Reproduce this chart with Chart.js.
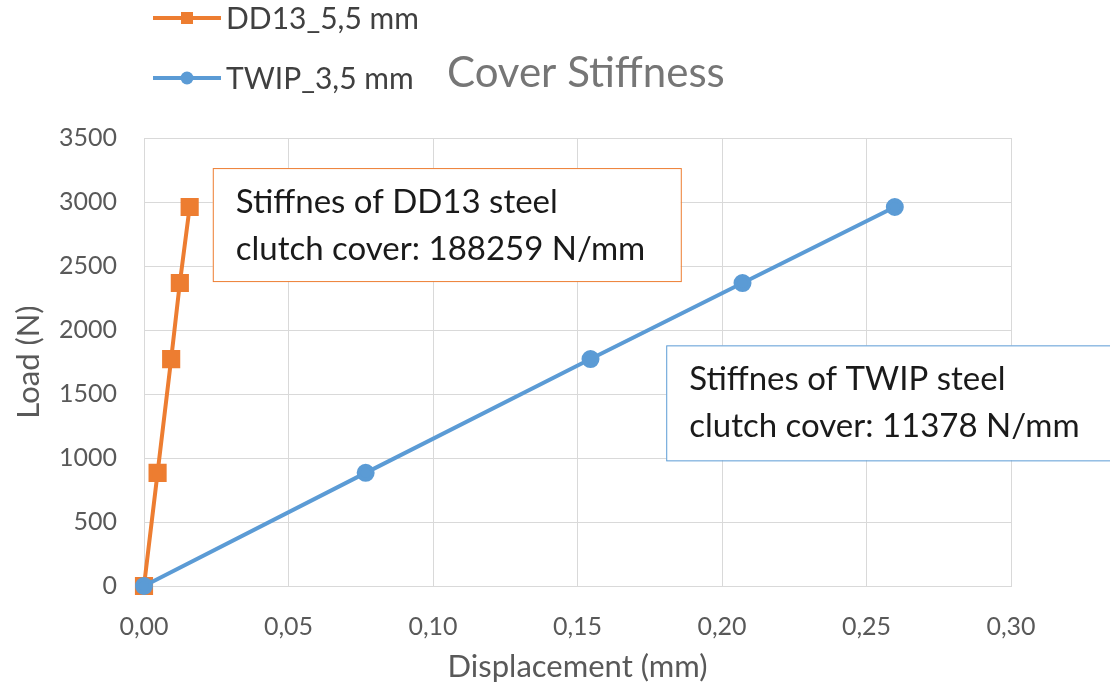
<!DOCTYPE html>
<html>
<head>
<meta charset="utf-8">
<script src="https://cdn.jsdelivr.net/npm/chart.js@4/dist/chart.umd.min.js"></script>
<style>
  html, body { margin: 0; padding: 0; background: #fff; }
  #wrap { width: 1110px; height: 693px; }
</style>
</head>
<body>
<div id="wrap"><canvas id="chart" width="1110" height="693"></canvas></div>
<script>
// data
const dd13Disp = [0, 0.0047, 0.0094, 0.0124, 0.0158];
const dd13Load = [0, 884, 1773, 2367, 2961];
const twipDisp = [0, 0.0767, 0.1545, 0.2071, 0.2598];
const twipLoad = [0, 884, 1773, 2367, 2961];

const seriesNames = ["DD13_5,5 mm", "TWIP_3,5 mm"];
const chartTitle = "Cover Stiffness";
const xTitle = "Displacement (mm)";
const yTitle = "Load (N)";
const noteDD13 = ["Stiffnes of DD13 steel", "clutch cover: 188259 N/mm"];
const noteTWIP = ["Stiffnes of TWIP steel", "clutch cover: 11378 N/mm"];

const ORANGE = "#ED7D31";
const BLUE = "#5B9BD5";
const FONT = "Lato, 'Open Sans', sans-serif";

const toPoints = (xs, ys) => xs.map((x, i) => ({ x: x, y: ys[i] }));

// legend, title and the two text boxes
const extras = {
  id: "extras",
  afterDraw(chart) {
    const ctx = chart.ctx;
    const xs = chart.scales.x;
    const ys = chart.scales.y;
    ctx.save();

    // legend (stacked, top left)
    const items = [
      { name: seriesNames[0], color: ORANGE, style: "rect", y: 18 },
      { name: seriesNames[1], color: BLUE, style: "circle", y: 78 },
    ];
    items.forEach((it) => {
      ctx.strokeStyle = it.color;
      ctx.lineWidth = 4;
      ctx.beginPath();
      ctx.moveTo(153, it.y);
      ctx.lineTo(221, it.y);
      ctx.stroke();
      ctx.fillStyle = it.color;
      if (it.style === "rect") {
        ctx.fillRect(181, it.y - 6, 12, 12);
      } else {
        ctx.beginPath();
        ctx.arc(187, it.y, 6.5, 0, Math.PI * 2);
        ctx.fill();
      }
      ctx.fillStyle = "#404040";
      ctx.font = "30px " + FONT;
      ctx.textBaseline = "middle";
      ctx.textAlign = "left";
      ctx.fillText(it.name, 226, it.y + 1);
    });

    // title
    ctx.fillStyle = "#767676";
    ctx.font = "42px " + FONT;
    ctx.textBaseline = "middle";
    ctx.fillText(chartTitle, 447, 73);

    // note boxes
    const box = (x0, y0, w, h, color, lines) => {
      ctx.fillStyle = "#fff";
      ctx.fillRect(x0, y0, w, h);
      ctx.strokeStyle = color;
      ctx.lineWidth = 1;
      ctx.strokeRect(x0 + 0.5, y0 + 0.5, w, h);
      ctx.fillStyle = "#1a1a1a";
      ctx.font = "33px " + FONT;
      ctx.textBaseline = "middle";
      ctx.fillText(lines[0], x0 + 23, y0 + 34);
      ctx.fillText(lines[1], x0 + 23, y0 + 81);
    };
    const bx1 = xs.getPixelForValue(0.0238);
    const by1 = ys.getPixelForValue(3265);
    box(bx1, by1, 468, 113, ORANGE, noteDD13);
    const bx2 = xs.getPixelForValue(0.1807);
    const by2 = ys.getPixelForValue(1880);
    box(bx2, by2, 460, 115, BLUE, noteTWIP);

    ctx.restore();
  },
};

new Chart(document.getElementById("chart"), {
  type: "line",
  data: {
    datasets: [
      {
        label: seriesNames[0],
        data: toPoints(dd13Disp, dd13Load),
        borderColor: ORANGE,
        backgroundColor: ORANGE,
        borderWidth: 4,
        pointStyle: "rect",
        pointRadius: 10,
        pointHoverRadius: 10,
        clip: false,
        order: 1,
      },
      {
        label: seriesNames[1],
        data: toPoints(twipDisp, twipLoad),
        borderColor: BLUE,
        backgroundColor: BLUE,
        borderWidth: 4,
        pointStyle: "circle",
        pointRadius: 7,
        pointHoverRadius: 7,
        clip: false,
        order: 0,
      },
    ],
  },
  options: {
    responsive: false,
    animation: false,
    layout: {
      padding: { top: 138, left: 0, right: 99, bottom: 0 },
    },
    scales: {
      x: {
        type: "linear",
        min: 0,
        max: 0.3,
        grid: { color: "#d9d9d9", lineWidth: 1, drawTicks: false },
        border: { color: "#d9d9d9" },
        ticks: {
          stepSize: 0.05,
          padding: 26,
          color: "#595959",
          font: { family: FONT, size: 25 },
          callback: (v) => v.toFixed(2).replace(".", ","),
        },
        title: {
          display: true,
          text: xTitle,
          color: "#595959",
          font: { family: FONT, size: 31 },
          padding: { top: 4, bottom: 7 },
        },
        afterFit: (s) => { s.height = 107; },
      },
      y: {
        min: 0,
        max: 3500,
        grid: { color: "#d9d9d9", lineWidth: 1, drawTicks: false },
        border: { color: "#d9d9d9" },
        ticks: {
          stepSize: 500,
          padding: 27,
          color: "#595959",
          font: { family: FONT, size: 25 },
          callback: (v) => String(v),
        },
        title: {
          display: true,
          text: yTitle,
          color: "#595959",
          font: { family: FONT, size: 31 },
          padding: { top: 10, bottom: 4 },
        },
        afterFit: (s) => { s.width = 144; },
      },
    },
    plugins: {
      legend: { display: false },
      title: { display: false },
      tooltip: { enabled: false },
    },
  },
  plugins: [extras],
});
</script>
</body>
</html>
